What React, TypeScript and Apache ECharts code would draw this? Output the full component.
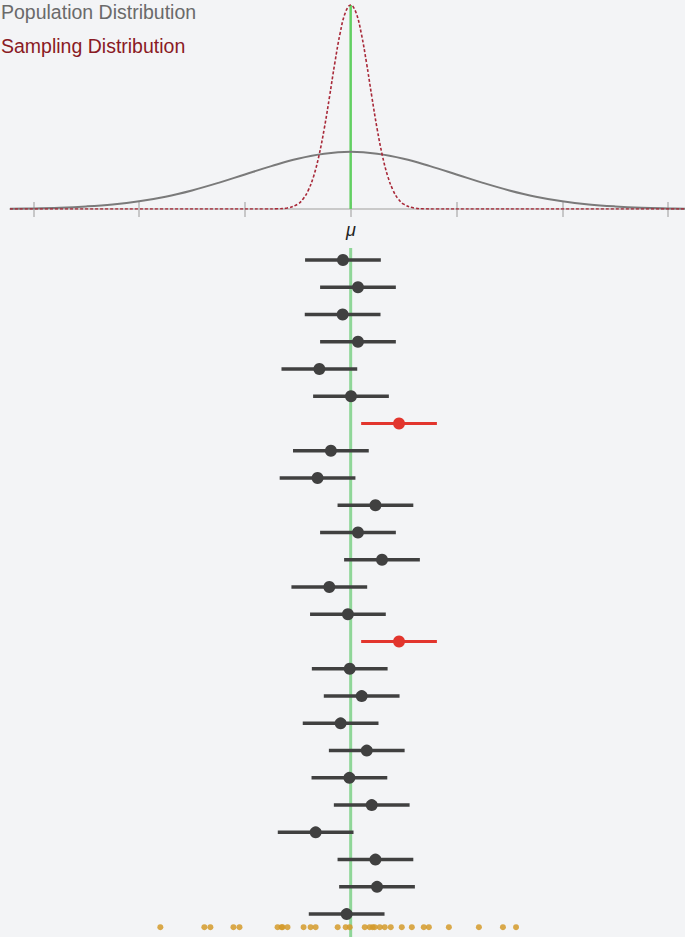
import React, { useEffect, useRef } from "react";
import * as echarts from "echarts";

// Population mean (in population-SD units) and axis tick positions
const MU = 0;
const TICKS = [-3, -2, -1, 0, 1, 2, 3];
const X_MIN = -3.22;
const X_MAX = 3.16;

// Population distribution curve (x in SD units, density)
const POP_X = [-3.22, -3, -2.75, -2.5, -2.25, -2, -1.75, -1.5, -1.25, -1, -0.75, -0.5, -0.25, 0, 0.25, 0.5, 0.75, 1, 1.25, 1.5, 1.75, 2, 2.25, 2.5, 2.75, 3, 3.16];
const POP_Y = [0.002, 0.004, 0.009, 0.018, 0.032, 0.054, 0.086, 0.13, 0.183, 0.242, 0.3, 0.352, 0.387, 0.4, 0.387, 0.352, 0.3, 0.242, 0.183, 0.13, 0.086, 0.054, 0.032, 0.018, 0.009, 0.004, 0.002];

// Sampling distribution curve (x in SD units, density)
const SAMP_X = [-3.22, -2.5, -1.8, -1.2, -0.8, -0.7, -0.6, -0.5, -0.45, -0.4, -0.35, -0.3, -0.25, -0.2, -0.15, -0.1, -0.05, 0, 0.05, 0.1, 0.15, 0.2, 0.25, 0.3, 0.35, 0.4, 0.45, 0.5, 0.6, 0.7, 0.8, 1.2, 1.8, 2.5, 3.16];
const SAMP_Y = [0, 0, 0, 0, 0, 0.0015, 0.01, 0.052, 0.107, 0.201, 0.351, 0.569, 0.857, 1.199, 1.559, 1.877, 2.1, 2.18, 2.1, 1.877, 1.559, 1.199, 0.857, 0.569, 0.351, 0.201, 0.107, 0.052, 0.01, 0.0015, 0, 0, 0, 0, 0];

// Confidence intervals: sample means and common margin of error
const CI_MEANS = [-0.073, 0.069, -0.076, 0.069, -0.296, 0.003, 0.457, -0.187, -0.313, 0.234, 0.069, 0.296, -0.202, -0.026, 0.457, -0.009, 0.104, -0.095, 0.152, -0.012, 0.199, -0.331, 0.234, 0.249, -0.038];
const CI_MARGIN = 0.358;

// Observations of the latest sample
const SAMPLE_POINTS = [-1.799, -1.383, -1.326, -1.108, -1.051, -0.691, -0.653, -0.644, -0.597, -0.445, -0.379, -0.331, -0.123, -0.047, -0.009, 0.133, 0.18, 0.208, 0.227, 0.275, 0.322, 0.379, 0.483, 0.578, 0.691, 0.739, 0.928, 1.212, 1.439, 1.563];

const LEGEND = ["Population Distribution", "Sampling Distribution"];

const SAMPLE_ROW = 24.48;
const GREEN_TOP_ROW = -0.44;
const ROW_MAX = 24.84;

export default function App() {
  const ref = useRef<HTMLDivElement>(null);

  useEffect(() => {
    if (!ref.current) return;
    const chart = echarts.init(ref.current, null, { renderer: "svg" });

    const popData = POP_X.map((x, i) => [x, POP_Y[i]]);
    const sampData = SAMP_X.map((x, i) => [x, SAMP_Y[i]]);
    const sampPeak = Math.max(...SAMP_Y);
    const ciData = CI_MEANS.map((m, i) => {
      const lo = m - CI_MARGIN;
      const hi = m + CI_MARGIN;
      return [lo, hi, m, i, lo <= MU && hi >= MU ? 1 : 0];
    });

    const font = '19.5px "Liberation Sans", Arial, sans-serif';

    chart.setOption({
      animation: false,
      backgroundColor: "#f3f4f6",
      grid: [
        { left: 10, right: 0, top: 0, height: 209 },
        { left: 10, right: 0, top: 232.75, height: 704.25 },
      ],
      xAxis: [
        {
          gridIndex: 0, type: "value", min: X_MIN, max: X_MAX,
          axisLine: { show: true, lineStyle: { color: "#c9c9c9", width: 2 } },
          axisTick: { show: false },
          axisLabel: { show: false }, splitLine: { show: false },
        },
        {
          gridIndex: 0, type: "value", min: X_MIN, max: X_MAX, position: "bottom", offset: -7,
          axisLine: { show: false },
          axisTick: { show: true, customValues: TICKS, length: 15, lineStyle: { color: "#b8b8b8", width: 1.5 } },
          axisLabel: { show: false }, splitLine: { show: false },
        },
        {
          gridIndex: 1, type: "value", min: X_MIN, max: X_MAX, show: false,
          splitLine: { show: false },
        },
      ],
      yAxis: [
        { gridIndex: 0, type: "value", min: 0, max: 1.463, show: false, splitLine: { show: false } },
        { gridIndex: 0, type: "value", min: 0, max: 2.233, show: false, splitLine: { show: false } },
        { gridIndex: 1, type: "value", min: -1, max: ROW_MAX, inverse: true, show: false, splitLine: { show: false } },
      ],
      graphic: [
        { type: "text", x: 1, y: 12, style: { text: LEGEND[0], fill: "#6a6a6a", font, verticalAlign: "middle" } },
        { type: "text", x: 1, y: 46, style: { text: LEGEND[1], fill: "#8a1a24", font, verticalAlign: "middle" } },
        { type: "text", x: 351, y: 230, style: { text: "μ", fill: "#222", font: 'italic 18px "Liberation Sans", Arial, sans-serif', align: "center", verticalAlign: "middle" } },
      ],
      series: [
        {
          type: "line", xAxisIndex: 0, yAxisIndex: 1, data: [[MU, 0], [MU, sampPeak]],
          showSymbol: false, lineStyle: { color: "#62cf62", width: 2.5 }, z: 1, silent: true,
        },
        {
          type: "line", xAxisIndex: 0, yAxisIndex: 0, data: popData, smooth: 0.4,
          showSymbol: false, lineStyle: { color: "#7a7a7a", width: 2 }, z: 2,
        },
        {
          type: "line", xAxisIndex: 0, yAxisIndex: 1, data: sampData, smooth: 0.4,
          showSymbol: false, lineStyle: { color: "#a82838", width: 1.6, type: [3, 2] }, z: 3,
        },
        {
          type: "line", xAxisIndex: 2, yAxisIndex: 2, data: [[MU, GREEN_TOP_ROW], [MU, ROW_MAX]],
          showSymbol: false, lineStyle: { color: "#8fd698", width: 3 }, z: 1, silent: true,
        },
        {
          type: "custom", xAxisIndex: 2, yAxisIndex: 2, data: ciData, z: 3,
          encode: { x: [0, 1, 2], y: 3 },
          renderItem: (params: any, api: any) => {
            const lo = api.coord([api.value(0), api.value(3)]);
            const hi = api.coord([api.value(1), api.value(3)]);
            const mid = api.coord([api.value(2), api.value(3)]);
            const ok = api.value(4) === 1;
            const color = ok ? "#404040" : "#e2352d";
            return {
              type: "group",
              children: [
                { type: "line", shape: { x1: lo[0], y1: lo[1], x2: hi[0], y2: hi[1] }, style: { stroke: color, lineWidth: ok ? 3.5 : 3 } },
                { type: "circle", shape: { cx: mid[0], cy: mid[1], r: 6 }, style: { fill: color } },
              ],
            };
          },
        },
        {
          type: "scatter", xAxisIndex: 2, yAxisIndex: 2,
          data: SAMPLE_POINTS.map((x) => [x, SAMPLE_ROW]),
          symbolSize: 6, itemStyle: { color: "#d49a2a", opacity: 0.85 }, z: 2,
        },
      ],
    });
    return () => chart.dispose();
  }, []);

  return (
    <div
      ref={ref}
      style={{ position: "absolute", left: 0, top: 0, width: 685, height: 937, background: "#f3f4f6" }}
    />
  );
}
